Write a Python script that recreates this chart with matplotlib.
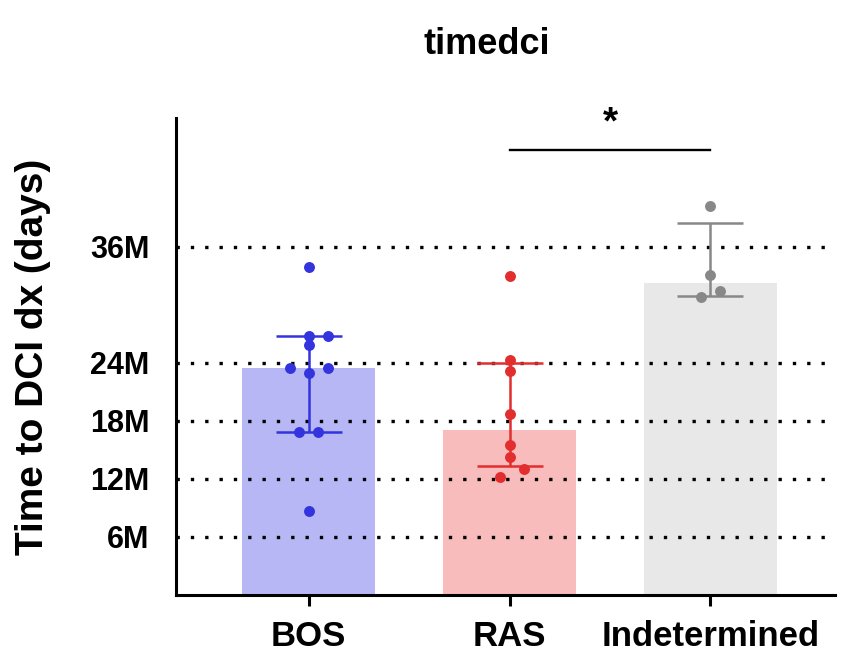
import numpy as np
import matplotlib
matplotlib.use("Agg")
import matplotlib.pyplot as plt

plt.rcParams['font.family'] = ['Liberation Sans', 'DejaVu Sans']
plt.rcParams['font.weight'] = 'bold'

# values in months
groups = ['BOS', 'RAS', 'Indetermined']
bos = [33.9, 26.8, 26.8, 25.85, 23.5, 23.5, 22.9, 16.8, 16.8, 8.7]
ras = [33.0, 24.3, 23.2, 18.7, 15.5, 14.3, 13.0, 12.2]
ind = [40.2, 33.1, 31.4, 30.75]
# horizontal jitter of the dots
bos_jit = [0, 0, 0.095, 0, -0.095, 0.095, 0, -0.047, 0.047, 0]
ras_jit = [0, 0, 0, 0, 0, 0, 0.073, -0.046]
ind_jit = [0, 0, 0.048, -0.046]

ytick_vals = [6, 12, 18, 24, 36]
ytick_labels = ['6M', '12M', '18M', '24M', '36M']
sig_level = 46.0

bar_cols = ['#b7b7f6', '#f9bcbc', '#e8e8e8']
dot_cols = ['#3434de', '#e22e2e', '#888888']

data = [bos, ras, ind]
jits = [bos_jit, ras_jit, ind_jit]

fig = plt.figure(figsize=(8.42, 6.58), dpi=100)
ax = fig.add_axes([176/842, 1 - 595/658, (835-176)/842, (595-118)/658])

x = np.arange(len(groups))
# bar = median, whiskers = interquartile range
med = [np.median(d) for d in data]
q1 = [np.percentile(d, 25, method='weibull') for d in data]
q3 = [np.percentile(d, 75, method='weibull') for d in data]

ax.bar(x, med, width=0.66, color=bar_cols, zorder=1)

for yv in ytick_vals:
    ax.axhline(yv, color='black', lw=2.4, linestyle=(0, (1, 3.3)), zorder=2)

for i in range(len(groups)):
    ax.errorbar(x[i], med[i], yerr=[[med[i] - q1[i]], [q3[i] - med[i]]],
                fmt='none', ecolor=dot_cols[i], elinewidth=1.8, capsize=24,
                capthick=1.8, zorder=3)
    ax.scatter(x[i] + np.array(jits[i]), data[i], s=62, color=dot_cols[i],
               zorder=4, linewidths=0)

# significance bar
ax.plot([1, 2], [sig_level, sig_level], color='black', lw=1.7, clip_on=False)
ax.text(1.5, sig_level + 0.9, '*', ha='center', va='bottom', fontsize=28,
        fontweight='bold', clip_on=False)

ax.set_xlim(-0.66, 2.62)
ax.set_ylim(0, 49.3)
ax.set_xticks(x)
ax.set_xticklabels(groups, fontsize=25, fontweight='bold')
ax.set_yticks(ytick_vals)
ax.set_yticklabels(ytick_labels, fontsize=22, fontweight='bold')
ax.tick_params(axis='y', length=0, pad=19)
ax.tick_params(axis='x', length=8, width=2.2, pad=10)

for s in ['top', 'right']:
    ax.spines[s].set_visible(False)
for s in ['left', 'bottom']:
    ax.spines[s].set_linewidth(2.2)

fig.text(33/842, 1 - 357/658, 'Time to DCI dx (days)', rotation=90,
         ha='center', va='center', fontsize=28, fontweight='bold')
fig.text(487/842, 1 - 45/658, 'timedci', ha='center', va='center',
         fontsize=26, fontweight='bold')

fig.savefig('out.png', dpi=100)
